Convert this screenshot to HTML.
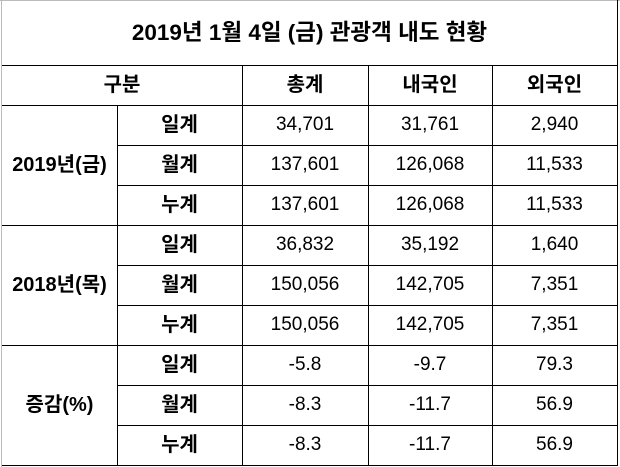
<!DOCTYPE html>
<html><head><meta charset="utf-8"><style>
body{margin:0;width:620px;height:467px;background:#fff;position:relative;overflow:hidden;font-family:"Liberation Sans","Noto Sans CJK KR","NanumGothic",sans-serif;color:#000}
.h{position:absolute;height:1px;background:#000}
.v{position:absolute;width:1px;background:#000}
.t{position:absolute;height:40px;line-height:40px;text-align:center;font-size:19px}
.b{font-weight:bold;font-size:20px}
</style></head><body>
<div class="h" style="left:0;top:0;width:620px;background:#bbb"></div>
<div class="v" style="left:1px;top:0;height:467px;background:#bbb"></div>
<div class="v" style="left:617px;top:0;height:466px"></div>
<div class="h" style="left:2px;top:65px;width:616px"></div>
<div class="h" style="left:2px;top:105px;width:616px"></div>
<div class="h" style="left:117px;top:145px;width:501px"></div>
<div class="h" style="left:117px;top:185px;width:501px"></div>
<div class="h" style="left:2px;top:225px;width:616px"></div>
<div class="h" style="left:117px;top:265px;width:501px"></div>
<div class="h" style="left:117px;top:305px;width:501px"></div>
<div class="h" style="left:2px;top:345px;width:616px"></div>
<div class="h" style="left:117px;top:385px;width:501px"></div>
<div class="h" style="left:117px;top:425px;width:501px"></div>
<div class="h" style="left:2px;top:465px;width:616px"></div>
<div class="v" style="left:117px;top:105px;height:360px"></div>
<div class="v" style="left:242px;top:65px;height:400px"></div>
<div class="v" style="left:368px;top:65px;height:400px"></div>
<div class="v" style="left:492px;top:65px;height:400px"></div>

<div class="t b" style="left:2px;width:615px;top:13px;font-size:22.5px">2019년 1월 4일 (금) 관광객 내도 현황</div>
<div class="t b" style="left:2px;width:240px;top:65px">구분</div>
<div class="t b" style="left:242px;width:126px;top:65px">총계</div>
<div class="t b" style="left:368px;width:124px;top:65px">내국인</div>
<div class="t b" style="left:492px;width:125px;top:65px">외국인</div>

<div class="t b" style="left:2px;width:115px;top:145px">2019년(금)</div>
<div class="t b" style="left:2px;width:115px;top:265px">2018년(목)</div>
<div class="t b" style="left:2px;width:115px;top:385px">증감(%)</div>

<div class="t b" style="left:117px;width:125px;top:105px">일계</div>
<div class="t b" style="left:117px;width:125px;top:145px">월계</div>
<div class="t b" style="left:117px;width:125px;top:185px">누계</div>
<div class="t b" style="left:117px;width:125px;top:225px">일계</div>
<div class="t b" style="left:117px;width:125px;top:265px">월계</div>
<div class="t b" style="left:117px;width:125px;top:305px">누계</div>
<div class="t b" style="left:117px;width:125px;top:345px">일계</div>
<div class="t b" style="left:117px;width:125px;top:385px">월계</div>
<div class="t b" style="left:117px;width:125px;top:425px">누계</div>

<div class="t" style="left:242px;width:126px;top:105px">34,701</div>
<div class="t" style="left:242px;width:126px;top:145px">137,601</div>
<div class="t" style="left:242px;width:126px;top:185px">137,601</div>
<div class="t" style="left:242px;width:126px;top:225px">36,832</div>
<div class="t" style="left:242px;width:126px;top:265px">150,056</div>
<div class="t" style="left:242px;width:126px;top:305px">150,056</div>
<div class="t" style="left:242px;width:126px;top:345px">-5.8</div>
<div class="t" style="left:242px;width:126px;top:385px">-8.3</div>
<div class="t" style="left:242px;width:126px;top:425px">-8.3</div>

<div class="t" style="left:368px;width:124px;top:105px">31,761</div>
<div class="t" style="left:368px;width:124px;top:145px">126,068</div>
<div class="t" style="left:368px;width:124px;top:185px">126,068</div>
<div class="t" style="left:368px;width:124px;top:225px">35,192</div>
<div class="t" style="left:368px;width:124px;top:265px">142,705</div>
<div class="t" style="left:368px;width:124px;top:305px">142,705</div>
<div class="t" style="left:368px;width:124px;top:345px">-9.7</div>
<div class="t" style="left:368px;width:124px;top:385px">-11.7</div>
<div class="t" style="left:368px;width:124px;top:425px">-11.7</div>

<div class="t" style="left:492px;width:125px;top:105px">2,940</div>
<div class="t" style="left:492px;width:125px;top:145px">11,533</div>
<div class="t" style="left:492px;width:125px;top:185px">11,533</div>
<div class="t" style="left:492px;width:125px;top:225px">1,640</div>
<div class="t" style="left:492px;width:125px;top:265px">7,351</div>
<div class="t" style="left:492px;width:125px;top:305px">7,351</div>
<div class="t" style="left:492px;width:125px;top:345px">79.3</div>
<div class="t" style="left:492px;width:125px;top:385px">56.9</div>
<div class="t" style="left:492px;width:125px;top:425px">56.9</div>
</body></html>
